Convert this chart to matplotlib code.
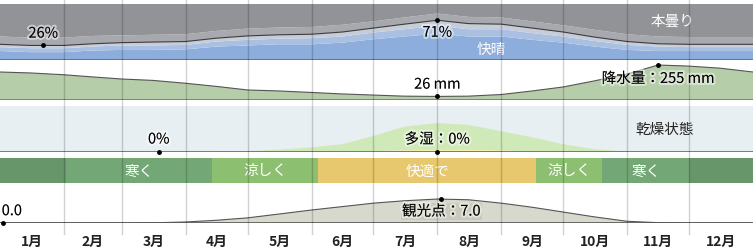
"""Yearly weather summary strip: cloud cover, rain, humidity, temperature, tourism."""

import matplotlib.pyplot as plt
import matplotlib.patheffects as pe
import numpy as np

plt.rcParams['font.family'] = ['Noto Sans CJK JP', 'DejaVu Sans']

W, H = 753, 253
FS = 10.5

month_labels = ['1月', '2月', '3月', '4月', '5月', '6月',
                '7月', '8月', '9月', '10月', '11月', '12月']
month_days = [31, 28, 31, 30, 31, 30, 31, 31, 30, 31, 30, 31]

# day-of-year sample points (roughly twice a month)
days = [0, 15, 31, 45, 59, 74, 90, 105, 120, 135, 151, 166, 181,
        196, 212, 227, 243, 258, 273, 288, 304, 319, 334, 349, 365]

# cloud cover categories, % of time
clear = [16, 14, 14, 17, 18, 18, 19, 24, 26, 28, 28, 31, 37,
         42, 47, 42, 42, 36, 31, 24, 18, 16, 16, 16, 16]
mostly_clear = [7, 7, 7, 7, 8, 8, 8, 9, 10, 10, 11, 11, 12,
                13, 14, 13, 13, 12, 11, 10, 9, 8, 7, 7, 7]
partly_cloudy = [5, 5, 5, 5, 5, 6, 6, 6, 7, 7, 7, 8, 8,
                 9, 10, 10, 9, 9, 8, 7, 6, 5, 5, 5, 5]
mostly_cloudy = [14, 14, 14, 14, 13, 13, 13, 13, 13, 13, 13, 13, 12,
                 12, 12, 12, 12, 12, 12, 13, 13, 13, 13, 13, 13]

# 31-day rainfall, mm
precip = [204, 197, 184, 168, 153, 143, 122, 99, 73, 66, 55, 44, 36,
          28, 26, 28, 40, 66, 95, 139, 190, 255, 247, 232, 204]

# humidity comfort, % of time (muggy at the bottom, comfortable above it)
muggy = [0, 0, 0, 0, 0, 0, 0, 0, 0, 0, 0, 1, 2,
         4, 5, 5, 4, 1, 0, 0, 0, 0, 0, 0, 0]
comfortable = [0, 0, 0, 0, 0, 0, 0, 0, 2, 5, 10, 16, 33,
               51, 58, 54, 41, 31, 17, 6, 1, 0, 0, 0, 0]

# tourism score (0-10)
tourism = [0, 0, 0, 0, 0, 0.05, 0.3, 0.8, 1.5, 2.6, 3.8, 4.8, 5.8,
           6.5, 7.0, 6.8, 5.8, 4.6, 3.2, 1.8, 0.5, 0.1, 0, 0, 0]

# temperature feel, day ranges
temp_start = [0, 32, 103, 154, 260, 292, 334]
temp_end = [32, 103, 154, 260, 292, 334, 365]
temp_names = ['', '寒く', '涼しく', '快適で', '涼しく', '寒く', '']
temp_colors = ['#67966b', '#74a776', '#8cc070', '#e7c86f',
               '#8cc070', '#74a776', '#67966b']

halo = [pe.withStroke(linewidth=3, foreground=(1, 1, 1, 0.5))]


def band(fig, top, bottom):
    ax = fig.add_axes([0, 1 - bottom / H, 1, (bottom - top) / H])
    ax.set_xlim(0, 365)
    ax.set_xticks([])
    ax.set_yticks([])
    for s in ax.spines.values():
        s.set_visible(False)
    return ax


def main():
    fig = plt.figure(figsize=(W / 100, H / 100), dpi=100)
    x = np.array(days)

    # --- cloud cover
    ax = band(fig, 5, 61)
    layers = [clear, mostly_clear, partly_cloudy, mostly_cloudy]
    colors = ['#8daedd', '#a9c0e3', '#c6ccd8', '#a7a9af']
    base = np.zeros(len(days))
    for vals, c in zip(layers, colors):
        ax.fill_between(x, base, base + vals, color=c, lw=0)
        base = base + vals
    ax.fill_between(x, base, 100, color='#929397', lw=0)
    line = np.array(clear) + np.array(mostly_clear) + np.array(partly_cloudy)
    ax.plot(x, line, color='#3c3c3c', lw=0.8)
    ax.set_ylim(0, 100)
    ax.axhline(0, color='#5d6b80', lw=1.2)
    low_day, high_day = 21, 212
    for d, dy in [(low_day, 8.5), (high_day, -9)]:
        v = np.interp(d, days, line)
        ax.plot(d, v, 'o', color='black', ms=2.5)
        ax.annotate(f'{v:.0f}%', (d, v), xytext=(0, dy), textcoords='offset points',
                    ha='center', va='center', fontsize=FS, path_effects=halo)
    ax.text(238, 20, '快晴', color='white', fontsize=FS, ha='center', va='center')
    ax.text(326, 70, '本曇り', color='white', fontsize=FS, ha='center', va='center')

    # --- precipitation
    ax = band(fig, 63, 101)
    ax.fill_between(x, 0, precip, color='#b6cda9', lw=0)
    ax.plot(x, precip, color='#555555', lw=0.8)
    ax.set_ylim(0, 277)
    ax.axhline(0, color='#777777', lw=1.2)
    i_min, i_max = int(np.argmin(precip)), int(np.argmax(precip))
    for i, dy, lab in [(i_min, 8.5, f'{precip[i_min]} mm'),
                       (i_max, -10, f'降水量：{precip[i_max]} mm')]:
        ax.plot(days[i], precip[i], 'o', color='black', ms=2.5)
        ax.annotate(lab, (days[i], precip[i]), xytext=(0, dy), textcoords='offset points',
                    ha='center', va='center', fontsize=FS, path_effects=halo)

    # --- humidity
    ax = band(fig, 107, 153)
    ax.set_facecolor('#e8eff2')
    ax.fill_between(x, 0, muggy, color='#f4eeaa', lw=0)
    ax.fill_between(x, muggy, np.array(muggy) + np.array(comfortable),
                    color='#cfe9b8', lw=0)
    ax.set_ylim(0, 100)
    ax.axhline(0, color='#6e665c', lw=1.2)
    for d, lab in [(77, '0%'), (212, '多湿：0%')]:
        ax.plot(d, 0, 'o', color='black', ms=2.5, clip_on=False)
        ax.annotate(lab, (d, 0), xytext=(0, 9), textcoords='offset points',
                    ha='center', va='center', fontsize=FS, path_effects=halo)
    ax.text(322, 50, '乾燥状態', fontsize=FS, ha='center', va='center', color='#222222')

    # --- temperature feel
    ax = band(fig, 159, 184)
    widths = np.array(temp_end) - np.array(temp_start)
    ax.barh(0, widths, left=temp_start, height=1, color=temp_colors, lw=0)
    ax.set_ylim(-0.5, 0.5)
    for s, w, name in zip(temp_start, widths, temp_names):
        ax.text(s + w / 2, 0, name, color='white', fontsize=FS, ha='center', va='center')

    # --- tourism score
    ax = band(fig, 185, 224)
    ax.fill_between(x, 0, tourism, color='#d8d9cd', lw=0)
    ax.plot(x, tourism, color='#555555', lw=0.8)
    ax.set_ylim(0, 11.4)
    ax.axhline(0, color='#555555', lw=1.2)
    ax.plot(1.5, 0, 'o', color='black', ms=2.5, clip_on=False)
    ax.annotate(f'{tourism[0]:.1f}', (1.5, 0), xytext=(-1, 8.5), textcoords='offset points',
                ha='left', va='center', fontsize=FS, path_effects=halo)
    i_top = int(np.argmax(tourism))
    ax.plot(days[i_top] + 2, tourism[i_top], 'o', color='black', ms=2.5)
    ax.annotate(f'観光点：{tourism[i_top]:.1f}', (days[i_top] + 2, tourism[i_top]),
                xytext=(0, -9), textcoords='offset points', ha='center', va='center',
                fontsize=FS, path_effects=halo,
                bbox=dict(boxstyle='square,pad=0.1', fc='#c9cabc', ec='none'))

    # --- month grid and labels on top
    ov = fig.add_axes([0, 0, 1, 1], zorder=10)
    ov.set_xlim(0, 365)
    ov.set_ylim(H, 0)
    ov.axis('off')
    edges = np.cumsum([0] + month_days)
    for e in edges[1:-1]:
        ov.plot([e, e], [0, 235], color='black', alpha=0.18, lw=1)
    for lab, a, b in zip(month_labels, edges[:-1], edges[1:]):
        ov.text((a + b) / 2, 242, lab, ha='center', va='center',
                fontsize=10, fontweight='bold', color='#222222')

    fig.savefig('out.png', dpi=100)


if __name__ == '__main__':
    main()
